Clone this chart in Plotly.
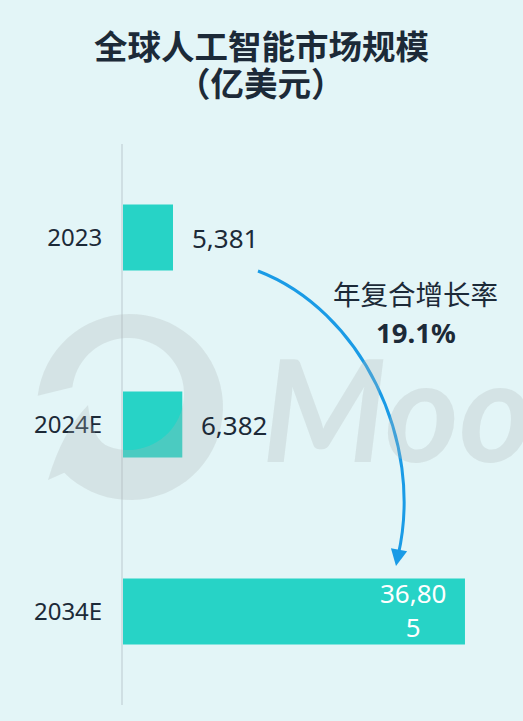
import math
import plotly.graph_objects as go

categories = ["2023", "2024E", "2034E"]
values = [5381, 6382, 36805]
value_labels = ["5,381", "6,382", "36,80<br>5"]
title_line1 = "全球人工智能市场规模"
title_line2 = "（亿美元）"
cagr_label = "年复合增长率"
cagr_value = "19.1%"

W, H = 523, 721
ML, MR, MT, MB = 123, 0, 144, 16
PW, PH = W - ML - MR, H - MT - MB

BG = "#e3f5f7"
BAR = "#27d3c6"
DARK = "#1c2a38"
BLUE = "#1a9be6"
WM = "rgba(175,180,180,0.27)"
FONT = "Noto Sans, Noto Sans CJK SC, sans-serif"
CJK = "Noto Sans CJK SC, Noto Sans, sans-serif"


def px(x):
    return (x - ML) / PW


def py(y):
    return (H - MB - y) / PH


pos = list(range(len(categories)))

fig = go.Figure()
fig.add_trace(go.Bar(
    y=pos, x=values, orientation="h",
    marker=dict(color=BAR, line=dict(width=0)),
    width=0.353, hoverinfo="skip",
))

annotations = []
# value labels
for i, (cat, v, lab) in enumerate(zip(categories, values, value_labels)):
    if i < 2:
        annotations.append(dict(x=v, y=i, xref="x", yref="y", text=lab,
                                showarrow=False, xanchor="left", xshift=17,
                                font=dict(family=FONT, size=26, color=DARK)))
    else:
        annotations.append(dict(x=v, y=i, xref="x", yref="y", text=lab,
                                showarrow=False, xanchor="right", xshift=-17,
                                align="center", yshift=2,
                                font=dict(family=FONT, size=26, color="white")))

# titles
annotations.append(dict(x=px(261), y=py(45), xref="paper", yref="paper",
                        text="<b>" + title_line1 + "</b>", showarrow=False,
                        xanchor="center", yanchor="middle",
                        font=dict(family=CJK, size=33.5, color=DARK)))
annotations.append(dict(x=px(261), y=py(82), xref="paper", yref="paper",
                        text="<b>" + title_line2 + "</b>", showarrow=False,
                        xanchor="center", yanchor="middle",
                        font=dict(family=CJK, size=33.5, color=DARK)))

# watermark text
annotations.append(dict(x=px(260), y=py(407), xref="paper", yref="paper",
                        text="<b><i>Moo</i></b>", showarrow=False,
                        xanchor="left", yanchor="middle",
                        font=dict(family="Lato, sans-serif", size=142, color=WM)))

# CAGR text
annotations.append(dict(x=px(415), y=py(293), xref="paper", yref="paper",
                        text=cagr_label, showarrow=False,
                        xanchor="center", yanchor="middle",
                        font=dict(family=CJK, size=27.5, color=DARK)))
annotations.append(dict(x=px(416), y=py(332), xref="paper", yref="paper",
                        text="<b>" + cagr_value + "</b>", showarrow=False,
                        xanchor="center", yanchor="middle",
                        font=dict(family=FONT, size=27.5, color=DARK)))

# arrow head
annotations.append(dict(x=px(396), y=py(566), xref="paper", yref="paper",
                        text="", showarrow=True, ax=3, ay=-16,
                        arrowhead=2, arrowsize=1.1, arrowwidth=3,
                        arrowcolor=BLUE))

# watermark ring path
cx, cy, R = 130, 407, 93
icx, icy, r = 128, 394, 56
pts = []
for i in range(0, 61):
    a = math.radians(187 + (495 - 187) * i / 60)
    pts.append((cx + R * math.cos(a), cy + R * math.sin(a)))
path = "M {} {}".format(px(pts[0][0]), py(pts[0][1]))
for x, y in pts[1:]:
    path += " L {} {}".format(px(x), py(y))
path += " L {} {}".format(px(48), py(480))
path += " Q {} {} {} {}".format(px(62), py(432), px(88), py(405))
ipts = []
for i in range(0, 61):
    a = math.radians(470 - (470 - 187) * i / 60)
    ipts.append((icx + r * math.cos(a), icy + r * math.sin(a)))
path += " Q {} {} {} {}".format(px(92), py(440), px(ipts[0][0]), py(ipts[0][1]))
for x, y in ipts[1:]:
    path += " L {} {}".format(px(x), py(y))
path += " Z"

shapes = [
    dict(type="path", xref="paper", yref="paper", path=path,
         fillcolor=WM, line=dict(width=0), layer="above"),
    dict(type="path", xref="paper", yref="paper",
         path="M {} {} C {} {} {} {} {} {}".format(
             px(258), py(271), px(360), py(310), px(425), py(440),
             px(398), py(556)),
         line=dict(color=BLUE, width=3), layer="above"),
]

fig.update_layout(
    width=W, height=H,
    margin=dict(l=ML, r=MR, t=MT, b=MB, pad=0),
    paper_bgcolor=BG, plot_bgcolor=BG,
    showlegend=False,
    xaxis=dict(range=[0, 43050], visible=False, fixedrange=True),
    yaxis=dict(range=[len(categories) - 0.5, -0.5],
               tickmode="array", tickvals=pos, ticktext=categories,
               showgrid=False, zeroline=False,
               showline=True, linecolor="#cfdfe3", linewidth=2,
               ticks="", ticklabelstandoff=14,
               tickfont=dict(family=FONT, size=24, color=DARK),
               fixedrange=True),
    annotations=annotations,
    shapes=shapes,
)

fig.write_html("out.html", config={"displayModeBar": False},
               post_script="document.body.style.margin='0';")
